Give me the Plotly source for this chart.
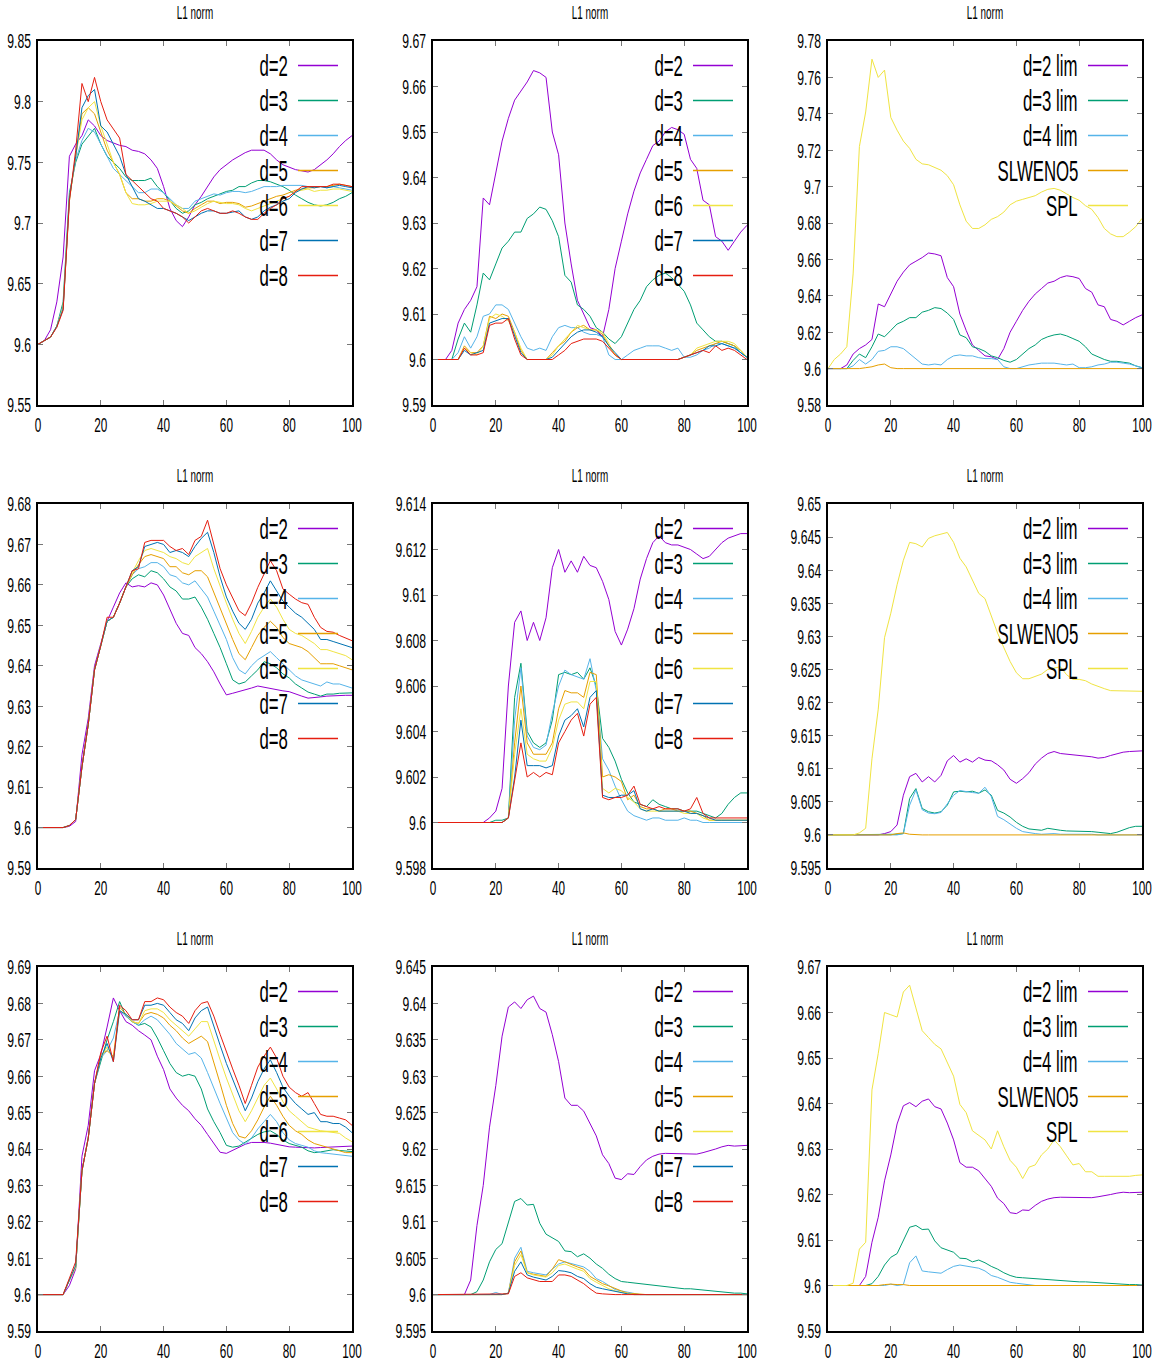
import plotly.graph_objects as go

W, H = 1159, 1362
FONT = "Liberation Sans, Arial, Helvetica, sans-serif"

x_time = list(range(0, 101, 2))
x_ticks = [0, 20, 40, 60, 80, 100]
x_tick_text = ["0", "20", "40", "60", "80", "100"]
title_text = "L1 norm"

d2_r1c1 = [9.600, 9.603, 9.612, 9.635, 9.672, 9.755, 9.765, 9.772, 9.785, 9.780,
           9.772, 9.768, 9.766, 9.764, 9.763, 9.760, 9.759, 9.757, 9.752, 9.745,
           9.730, 9.712, 9.702, 9.697, 9.705, 9.715, 9.722, 9.730, 9.738, 9.744,
           9.748, 9.752, 9.755, 9.758, 9.760, 9.760, 9.760, 9.757, 9.752, 9.748,
           9.746, 9.744, 9.743, 9.742, 9.744, 9.748, 9.752, 9.757, 9.763, 9.768,
           9.772]
d3_r1c1 = [9.600, 9.603, 9.606, 9.615, 9.635, 9.725, 9.750, 9.765, 9.772, 9.778,
           9.765, 9.755, 9.750, 9.745, 9.738, 9.735, 9.735, 9.735, 9.737, 9.730,
           9.725, 9.718, 9.712, 9.708, 9.710, 9.715, 9.717, 9.720, 9.722, 9.724,
           9.726, 9.727, 9.730, 9.730, 9.733, 9.735, 9.735, 9.734, 9.732, 9.730,
           9.727, 9.723, 9.720, 9.717, 9.715, 9.714, 9.715, 9.717, 9.720, 9.722,
           9.725]
d4_r1c1 = [9.600, 9.603, 9.606, 9.615, 9.632, 9.722, 9.752, 9.768, 9.778, 9.775,
           9.765, 9.755, 9.745, 9.740, 9.735, 9.730, 9.725, 9.725, 9.728, 9.728,
           9.725, 9.720, 9.715, 9.712, 9.712, 9.718, 9.720, 9.722, 9.724, 9.723,
           9.725, 9.726, 9.726, 9.725, 9.726, 9.728, 9.730, 9.730, 9.730, 9.731,
           9.731, 9.731, 9.731, 9.730, 9.730, 9.730, 9.729, 9.730, 9.729, 9.728,
           9.727]
d5_r1c1 = [9.600, 9.603, 9.606, 9.615, 9.630, 9.720, 9.755, 9.790, 9.795, 9.790,
           9.775, 9.760, 9.750, 9.740, 9.725, 9.720, 9.720, 9.718, 9.718, 9.720,
           9.720, 9.718, 9.714, 9.710, 9.708, 9.712, 9.715, 9.718, 9.718, 9.716,
           9.717, 9.717, 9.716, 9.713, 9.714, 9.716, 9.718, 9.720, 9.722, 9.723,
           9.725, 9.727, 9.728, 9.729, 9.729, 9.730, 9.730, 9.731, 9.732, 9.731,
           9.730]
d6_r1c1 = [9.600, 9.603, 9.606, 9.615, 9.630, 9.718, 9.755, 9.785, 9.795, 9.800,
           9.780, 9.765, 9.750, 9.740, 9.725, 9.716, 9.715, 9.715, 9.716, 9.718,
           9.718, 9.718, 9.715, 9.712, 9.708, 9.710, 9.713, 9.716, 9.718, 9.717,
           9.716, 9.716, 9.715, 9.712, 9.710, 9.712, 9.714, 9.716, 9.718, 9.720,
           9.722, 9.726, 9.727, 9.728, 9.726, 9.727, 9.727, 9.728, 9.728, 9.727,
           9.726]
d7_r1c1 = [9.600, 9.603, 9.606, 9.615, 9.629, 9.720, 9.755, 9.795, 9.805, 9.810,
           9.780, 9.775, 9.765, 9.755, 9.740, 9.730, 9.720, 9.718, 9.715, 9.712,
           9.712, 9.710, 9.708, 9.705, 9.702, 9.705, 9.708, 9.710, 9.710, 9.708,
           9.708, 9.709, 9.710, 9.705, 9.703, 9.705, 9.710, 9.713, 9.715, 9.718,
           9.720, 9.725, 9.728, 9.730, 9.729, 9.730, 9.729, 9.730, 9.731, 9.730,
           9.729]
d8_r1c1 = [9.600, 9.603, 9.606, 9.614, 9.628, 9.718, 9.760, 9.815, 9.800, 9.820,
           9.800, 9.785, 9.778, 9.770, 9.740, 9.735, 9.730, 9.725, 9.720, 9.718,
           9.712, 9.710, 9.708, 9.705, 9.700, 9.705, 9.710, 9.712, 9.710, 9.708,
           9.708, 9.710, 9.708, 9.705, 9.703, 9.703, 9.708, 9.712, 9.715, 9.720,
           9.722, 9.726, 9.730, 9.730, 9.730, 9.730, 9.730, 9.732, 9.732, 9.731,
           9.730]

d2_r1c2 = [9.600, 9.600, 9.600, 9.602, 9.608, 9.611, 9.613, 9.616, 9.6355, 9.634,
           9.641, 9.648, 9.653, 9.657, 9.659, 9.661, 9.6635, 9.663, 9.662, 9.650,
           9.645, 9.630, 9.621, 9.613, 9.610, 9.607, 9.6065, 9.605, 9.611, 9.620,
           9.626, 9.632, 9.637, 9.641, 9.644, 9.647, 9.648, 9.650, 9.651, 9.6505,
           9.6495, 9.644, 9.642, 9.635, 9.634, 9.627, 9.626, 9.624, 9.626, 9.628,
           9.6295]
d3_r1c2 = [9.600, 9.600, 9.600, 9.600, 9.6045, 9.608, 9.606, 9.612, 9.619, 9.6175,
           9.621, 9.6245, 9.626, 9.628, 9.628, 9.631, 9.632, 9.6335, 9.633, 9.6305,
           9.627, 9.6185, 9.617, 9.612, 9.611, 9.6095, 9.607, 9.606, 9.6045, 9.6035,
           9.605, 9.608, 9.611, 9.613, 9.616, 9.6175, 9.6185, 9.619, 9.618, 9.6165,
           9.615, 9.612, 9.608, 9.6065, 9.605, 9.604, 9.604, 9.6035, 9.603, 9.6015,
           9.6005]
d4_r1c2 = [9.600, 9.600, 9.600, 9.600, 9.6015, 9.605, 9.6025, 9.605, 9.6095, 9.610,
           9.612, 9.612, 9.611, 9.608, 9.605, 9.6025, 9.602, 9.6025, 9.602, 9.605,
           9.607, 9.6075, 9.607, 9.607, 9.606, 9.6055, 9.6055, 9.605, 9.601, 9.600,
           9.600, 9.601, 9.602, 9.6025, 9.603, 9.603, 9.603, 9.6025, 9.602, 9.6025,
           9.6005, 9.6005, 9.601, 9.602, 9.6025, 9.6035, 9.6035, 9.603, 9.6025, 9.6015,
           9.6005]
d5_r1c2 = [9.600, 9.600, 9.600, 9.600, 9.600, 9.603, 9.6015, 9.6015, 9.603, 9.6095,
           9.609, 9.610, 9.6095, 9.606, 9.602, 9.600, 9.600, 9.600, 9.600, 9.6015,
           9.603, 9.604, 9.606, 9.607, 9.6075, 9.6065, 9.6065, 9.6055, 9.603, 9.601,
           9.600, 9.600, 9.600, 9.600, 9.600, 9.600, 9.600, 9.600, 9.600, 9.600,
           9.6005, 9.601, 9.602, 9.6025, 9.603, 9.6035, 9.604, 9.6035, 9.603, 9.602,
           9.6005]
d6_r1c2 = [9.600, 9.600, 9.600, 9.600, 9.600, 9.6025, 9.6015, 9.601, 9.603, 9.609,
           9.610, 9.6095, 9.6085, 9.606, 9.6025, 9.600, 9.600, 9.600, 9.600, 9.601,
           9.603, 9.6045, 9.606, 9.6075, 9.607, 9.6065, 9.6065, 9.606, 9.6035, 9.601,
           9.600, 9.600, 9.600, 9.600, 9.600, 9.600, 9.600, 9.600, 9.600, 9.600,
           9.6005, 9.601, 9.6025, 9.603, 9.6035, 9.604, 9.604, 9.604, 9.6035, 9.602,
           9.6005]
d7_r1c2 = [9.600, 9.600, 9.600, 9.600, 9.600, 9.602, 9.601, 9.6015, 9.602, 9.608,
           9.6085, 9.609, 9.609, 9.605, 9.6015, 9.600, 9.600, 9.600, 9.600, 9.6005,
           9.602, 9.6035, 9.605, 9.606, 9.6065, 9.6065, 9.606, 9.605, 9.603, 9.6015,
           9.600, 9.600, 9.600, 9.600, 9.600, 9.600, 9.600, 9.600, 9.600, 9.600,
           9.6005, 9.601, 9.6015, 9.602, 9.603, 9.603, 9.6035, 9.603, 9.6025, 9.6015,
           9.6005]
d8_r1c2 = [9.600, 9.600, 9.600, 9.600, 9.600, 9.6025, 9.601, 9.601, 9.6015, 9.6075,
           9.608, 9.608, 9.609, 9.6045, 9.601, 9.600, 9.600, 9.600, 9.600, 9.600,
           9.601, 9.602, 9.6035, 9.604, 9.6045, 9.6045, 9.6045, 9.604, 9.6025, 9.601,
           9.600, 9.600, 9.600, 9.600, 9.600, 9.600, 9.600, 9.600, 9.600, 9.600,
           9.6005, 9.601, 9.6015, 9.602, 9.6015, 9.603, 9.602, 9.6025, 9.602, 9.601,
           9.600]

slweno5_r1 = [9.600, 9.600, 9.600, 9.600, 9.600, 9.600, 9.6005, 9.601, 9.602, 9.6025,
              9.6005, 9.600, 9.600, 9.600, 9.600, 9.600, 9.600, 9.600, 9.600, 9.600,
              9.600, 9.600, 9.600, 9.600, 9.600, 9.600, 9.600, 9.600, 9.600, 9.600,
              9.600, 9.600, 9.600, 9.600, 9.600, 9.600, 9.600, 9.600, 9.600, 9.600,
              9.600, 9.600, 9.600, 9.600, 9.600, 9.600, 9.600, 9.600, 9.600, 9.600,
              9.600]
spl_r1 = [9.600, 9.605, 9.608, 9.612, 9.652, 9.722, 9.741, 9.770, 9.760, 9.764,
          9.738, 9.731, 9.725, 9.721, 9.715, 9.7125, 9.712, 9.7105, 9.709, 9.706,
          9.701, 9.690, 9.681, 9.677, 9.677, 9.679, 9.682, 9.6835, 9.686, 9.690,
          9.692, 9.693, 9.694, 9.695, 9.697, 9.6985, 9.699, 9.698, 9.696, 9.694,
          9.6925, 9.6895, 9.6875, 9.683, 9.677, 9.674, 9.6725, 9.6725, 9.675, 9.678,
          9.6825]

d2_r2c1 = [9.600, 9.600, 9.600, 9.600, 9.600, 9.6003, 9.6015, 9.618, 9.627, 9.640,
           9.6455, 9.651, 9.6545, 9.658, 9.6605, 9.6595, 9.6598, 9.6595, 9.6605, 9.660,
           9.6575, 9.654, 9.6505, 9.648, 9.6475, 9.6445, 9.643, 9.641, 9.6385, 9.6355,
           9.6328, 9.6332, 9.6336, 9.634, 9.6345, 9.635, 9.6347, 9.6343, 9.634, 9.6338,
           9.6336, 9.633, 9.6325, 9.632, 9.6321, 9.6323, 9.6325, 9.6326, 9.6327, 9.6327,
           9.6327]
d3_r2c1 = [9.600, 9.600, 9.600, 9.600, 9.600, 9.6005, 9.602, 9.615, 9.6255, 9.639,
           9.645, 9.651, 9.652, 9.6555, 9.6595, 9.6615, 9.6625, 9.662, 9.6635, 9.663,
           9.6615, 9.6595, 9.6585, 9.6565, 9.6565, 9.657, 9.6545, 9.6515, 9.648, 9.6445,
           9.6405, 9.6365, 9.6355, 9.636, 9.6375, 9.639, 9.641, 9.6405, 9.6395, 9.638,
           9.637, 9.6355, 9.6345, 9.6335, 9.633, 9.6325, 9.633, 9.633, 9.6332, 9.6332,
           9.6333]
d4_r2c1 = [9.600, 9.600, 9.600, 9.600, 9.600, 9.6005, 9.602, 9.615, 9.6255, 9.639,
           9.645, 9.651, 9.652, 9.6555, 9.6595, 9.6625, 9.664, 9.6645, 9.6655, 9.6655,
           9.6645, 9.6625, 9.662, 9.6605, 9.660, 9.661, 9.659, 9.657, 9.6535, 9.650,
           9.6465, 9.642, 9.639, 9.638, 9.640, 9.6415, 9.6425, 9.6435, 9.642, 9.6405,
           9.639, 9.6375, 9.6365, 9.636, 9.6355, 9.635, 9.636, 9.6355, 9.6355, 9.635,
           9.6345]
d5_r2c1 = [9.600, 9.600, 9.600, 9.600, 9.600, 9.6005, 9.602, 9.615, 9.6255, 9.639,
           9.645, 9.651, 9.652, 9.6555, 9.6595, 9.6625, 9.665, 9.667, 9.6675, 9.667,
           9.6665, 9.6645, 9.6645, 9.663, 9.6625, 9.6635, 9.6635, 9.662, 9.658, 9.6545,
           9.650, 9.6465, 9.643, 9.6415, 9.6445, 9.6475, 9.6495, 9.651, 9.6495, 9.647,
           9.6455, 9.645, 9.6445, 9.6435, 9.642, 9.6405, 9.6405, 9.6405, 9.640, 9.6395,
           9.639]
d6_r2c1 = [9.600, 9.600, 9.600, 9.600, 9.600, 9.6005, 9.602, 9.615, 9.6255, 9.639,
           9.645, 9.651, 9.652, 9.6555, 9.6595, 9.663, 9.666, 9.6685, 9.669, 9.6685,
           9.668, 9.667, 9.6665, 9.6655, 9.665, 9.667, 9.668, 9.669, 9.664, 9.6595,
           9.6555, 9.6515, 9.648, 9.6455, 9.6485, 9.652, 9.6545, 9.6565, 9.6545, 9.6515,
           9.649, 9.648, 9.6475, 9.6465, 9.6455, 9.644, 9.644, 9.6435, 9.643, 9.6425,
           9.6415]
d7_r2c1 = [9.600, 9.600, 9.600, 9.600, 9.600, 9.6005, 9.602, 9.615, 9.6255, 9.639,
           9.645, 9.651, 9.652, 9.6555, 9.6595, 9.6635, 9.6645, 9.6695, 9.670, 9.6705,
           9.670, 9.668, 9.6685, 9.668, 9.667, 9.6695, 9.6715, 9.673, 9.668, 9.662,
           9.657, 9.6535, 9.6505, 9.649, 9.6515, 9.6555, 9.658, 9.661, 9.6585, 9.656,
           9.6545, 9.653, 9.652, 9.6505, 9.649, 9.6465, 9.6465, 9.646, 9.6455, 9.645,
           9.6445]
d8_r2c1 = [9.600, 9.600, 9.600, 9.600, 9.600, 9.6005, 9.602, 9.615, 9.6255, 9.639,
           9.645, 9.652, 9.652, 9.6555, 9.6595, 9.6635, 9.664, 9.6705, 9.671, 9.671,
           9.671, 9.6695, 9.6685, 9.669, 9.6675, 9.671, 9.672, 9.676, 9.670, 9.664,
           9.660, 9.6567, 9.6536, 9.6524, 9.6555, 9.6594, 9.6627, 9.666, 9.6635, 9.659,
           9.6577, 9.6565, 9.6556, 9.6552, 9.652, 9.6495, 9.6485, 9.6483, 9.6475, 9.6468,
           9.6462]

d2_r2c2 = [9.600, 9.600, 9.600, 9.600, 9.600, 9.600, 9.600, 9.600, 9.600, 9.6002,
           9.6005, 9.6015, 9.606, 9.6088, 9.6093, 9.608, 9.6088, 9.608, 9.609, 9.6112,
           9.612, 9.611, 9.6115, 9.611, 9.6117, 9.6113, 9.6112, 9.6106, 9.6098, 9.6084,
           9.6078, 9.6085, 9.6094, 9.6107, 9.6116, 9.6123, 9.6126, 9.6123, 9.6122, 9.6122,
           9.6121, 9.612, 9.6118, 9.6116, 9.6117, 9.612, 9.6123, 9.6125, 9.6126, 9.6127,
           9.6127]
d3_r2c2 = [9.600, 9.600, 9.600, 9.600, 9.600, 9.600, 9.600, 9.600, 9.600, 9.600,
           9.6001, 9.6001, 9.6002, 9.6055, 9.607, 9.604, 9.6035, 9.6033, 9.6035, 9.6045,
           9.6065, 9.6066, 9.6065, 9.6066, 9.6063, 9.6068, 9.606, 9.6037, 9.6033, 9.6027,
           9.6019, 9.6013, 9.6009, 9.6008, 9.6007, 9.601, 9.6008, 9.6007, 9.6006, 9.6006,
           9.6005, 9.6005, 9.6005, 9.6004, 9.6003, 9.6002, 9.6004, 9.6008, 9.6011, 9.6013,
           9.6013]
d4_r2c2 = [9.600, 9.600, 9.600, 9.600, 9.600, 9.600, 9.600, 9.600, 9.600, 9.600,
           9.600, 9.600, 9.6002, 9.6045, 9.6068, 9.6038, 9.6033, 9.6032, 9.6034, 9.6048,
           9.606, 9.6067, 9.6065, 9.6064, 9.6063, 9.6072, 9.6058, 9.6028, 9.6023, 9.6016,
           9.601, 9.6005, 9.6003, 9.6002, 9.6001, 9.6002, 9.6002, 9.6001, 9.6001, 9.6001,
           9.6002, 9.6001, 9.6001, 9.600, 9.600, 9.600, 9.600, 9.600, 9.600, 9.600,
           9.600]
d5_r2c2 = [9.600, 9.600, 9.600, 9.600, 9.600, 9.600, 9.600, 9.600, 9.600, 9.600,
           9.600, 9.600, 9.6002, 9.6035, 9.606, 9.6035, 9.603, 9.603, 9.603, 9.6035,
           9.605, 9.6058, 9.6057, 9.6057, 9.6055, 9.6066, 9.6065, 9.602, 9.6021, 9.602,
           9.6018, 9.601, 9.6012, 9.6007, 9.6006, 9.6006, 9.6005, 9.6006, 9.6006, 9.6005,
           9.6005, 9.6005, 9.6004, 9.6003, 9.6001, 9.6001, 9.6001, 9.6001, 9.6001, 9.6001,
           9.6001]
d6_r2c2 = [9.600, 9.600, 9.600, 9.600, 9.600, 9.600, 9.600, 9.600, 9.600, 9.600,
           9.600, 9.600, 9.6002, 9.603, 9.605, 9.603, 9.6028, 9.6027, 9.6027, 9.6033,
           9.6045, 9.6052, 9.6053, 9.6053, 9.605, 9.6062, 9.6062, 9.6015, 9.6013, 9.6015,
           9.6014, 9.6011, 9.6009, 9.6006, 9.6005, 9.6005, 9.6005, 9.6005, 9.6005, 9.6005,
           9.6004, 9.6004, 9.6004, 9.6002, 9.6001, 9.6001, 9.6001, 9.6001, 9.6001, 9.6001,
           9.6001]
d7_r2c2 = [9.600, 9.600, 9.600, 9.600, 9.600, 9.600, 9.600, 9.600, 9.600, 9.600,
           9.600, 9.600, 9.6002, 9.602, 9.6045, 9.6025, 9.6025, 9.6025, 9.6024, 9.6025,
           9.6038, 9.6045, 9.6047, 9.605, 9.6042, 9.6055, 9.6058, 9.6012, 9.6011, 9.6011,
           9.6012, 9.6012, 9.6014, 9.6006, 9.6005, 9.6006, 9.6005, 9.6005, 9.6005, 9.6005,
           9.6005, 9.6004, 9.6004, 9.6003, 9.6002, 9.6001, 9.6001, 9.6001, 9.6001, 9.6001,
           9.6001]
d8_r2c2 = [9.600, 9.600, 9.600, 9.600, 9.600, 9.600, 9.600, 9.600, 9.600, 9.600,
           9.600, 9.600, 9.6002, 9.6018, 9.6035, 9.602, 9.6022, 9.602, 9.6022, 9.6021,
           9.6035, 9.604, 9.6045, 9.6048, 9.6038, 9.6052, 9.6055, 9.6011, 9.601, 9.6011,
           9.6011, 9.6012, 9.6016, 9.6008, 9.6007, 9.6006, 9.6007, 9.6006, 9.6006, 9.6006,
           9.6005, 9.6006, 9.6011, 9.6004, 9.6002, 9.6002, 9.6002, 9.6002, 9.6002, 9.6002,
           9.6002]

slweno5_r2 = [9.600, 9.600, 9.600, 9.600, 9.600, 9.600, 9.600, 9.600, 9.600, 9.600,
              9.600, 9.6002, 9.6003, 9.6001, 9.600, 9.600, 9.600, 9.600, 9.600, 9.600,
              9.600, 9.600, 9.600, 9.600, 9.600, 9.600, 9.600, 9.600, 9.600, 9.600,
              9.600, 9.600, 9.600, 9.600, 9.600, 9.600, 9.600, 9.600, 9.600, 9.600,
              9.600, 9.600, 9.600, 9.600, 9.600, 9.600, 9.600, 9.600, 9.600, 9.600,
              9.600]
spl_r2 = [9.600, 9.600, 9.600, 9.600, 9.600, 9.6003, 9.601, 9.6115, 9.619, 9.6298,
          9.6335, 9.6378, 9.6415, 9.6442, 9.644, 9.6435, 9.6448, 9.6452, 9.6455, 9.6457,
          9.6442, 9.6418, 9.6405, 9.6385, 9.6365, 9.6357, 9.633, 9.6305, 9.6283, 9.6262,
          9.6245, 9.6236, 9.6236, 9.6239, 9.6243, 9.625, 9.6252, 9.6254, 9.6242, 9.6235,
          9.6235, 9.6233, 9.6228, 9.6224, 9.6221, 9.6218, 9.6218, 9.6218, 9.6217, 9.6217,
          9.6217]

d2_r3c1 = [9.600, 9.600, 9.600, 9.600, 9.600, 9.6025, 9.607, 9.638, 9.6465, 9.6615,
           9.666, 9.6735, 9.6815, 9.678, 9.675, 9.674, 9.6725, 9.6713, 9.670, 9.6655,
           9.6618, 9.6565, 9.654, 9.652, 9.6505, 9.6483, 9.6465, 9.644, 9.6415, 9.6391,
           9.6388, 9.6396, 9.6405, 9.6413, 9.6418, 9.6419, 9.6418, 9.6416, 9.6412, 9.6409,
           9.6406, 9.6405, 9.6404, 9.6403, 9.6403, 9.6404, 9.6405, 9.6406, 9.6407, 9.6408,
           9.6408]
d3_r3c1 = [9.600, 9.600, 9.600, 9.600, 9.600, 9.604, 9.6075, 9.634, 9.643, 9.658,
           9.664, 9.670, 9.675, 9.6805, 9.6765, 9.675, 9.674, 9.6745, 9.6735, 9.6705,
           9.667, 9.6635, 9.661, 9.660, 9.6605, 9.660, 9.6565, 9.651, 9.6475, 9.6445,
           9.641, 9.6405, 9.6408, 9.6418, 9.6428, 9.644, 9.6447, 9.645, 9.644, 9.6425,
           9.6415, 9.641, 9.6405, 9.6395, 9.639, 9.6392, 9.6395, 9.6398, 9.6396, 9.6394,
           9.6393]
d4_r3c1 = [9.600, 9.600, 9.600, 9.600, 9.600, 9.604, 9.6075, 9.634, 9.643, 9.658,
           9.665, 9.667, 9.6705, 9.678, 9.6765, 9.675, 9.674, 9.6755, 9.6765, 9.6755,
           9.6735, 9.6715, 9.669, 9.6675, 9.666, 9.6665, 9.665, 9.661, 9.6565, 9.6525,
           9.6485, 9.6445, 9.6425, 9.6413, 9.643, 9.6455, 9.6475, 9.6495, 9.6475, 9.6445,
           9.6425, 9.6415, 9.641, 9.6405, 9.6395, 9.639, 9.6388, 9.6386, 9.6384, 9.6382,
           9.638]
d5_r3c1 = [9.600, 9.600, 9.600, 9.600, 9.600, 9.604, 9.6075, 9.634, 9.643, 9.658,
           9.666, 9.667, 9.6655, 9.679, 9.677, 9.675, 9.6745, 9.677, 9.6775, 9.677,
           9.676, 9.674, 9.6725, 9.6705, 9.669, 9.670, 9.671, 9.6695, 9.664, 9.658,
           9.652, 9.647, 9.6435, 9.643, 9.645, 9.648, 9.6515, 9.6545, 9.652, 9.649,
           9.6465, 9.645, 9.644, 9.6425, 9.6415, 9.641, 9.6405, 9.640, 9.6395, 9.639,
           9.639]
d6_r3c1 = [9.600, 9.600, 9.600, 9.600, 9.600, 9.604, 9.6075, 9.634, 9.643, 9.658,
           9.665, 9.668, 9.665, 9.678, 9.677, 9.675, 9.6745, 9.678, 9.6785, 9.6785,
           9.6775, 9.6755, 9.674, 9.6725, 9.671, 9.673, 9.675, 9.675, 9.6695, 9.6645,
           9.6595, 9.655, 9.6505, 9.6475, 9.6505, 9.654, 9.6575, 9.6595, 9.6565, 9.653,
           9.6505, 9.649, 9.6475, 9.646, 9.6455, 9.645, 9.6448, 9.6446, 9.6443, 9.643,
           9.642]
d7_r3c1 = [9.600, 9.600, 9.600, 9.600, 9.600, 9.604, 9.608, 9.634, 9.643, 9.658,
           9.665, 9.669, 9.664, 9.678, 9.677, 9.6755, 9.6755, 9.6795, 9.6795, 9.680,
           9.6795, 9.6775, 9.6755, 9.6745, 9.6725, 9.676, 9.678, 9.679, 9.6735, 9.6685,
           9.6635, 9.659, 9.655, 9.6505, 9.654, 9.6585, 9.662, 9.6645, 9.661, 9.657,
           9.6545, 9.6525, 9.651, 9.6495, 9.650, 9.6475, 9.6475, 9.647, 9.647, 9.646,
           9.6445]
d8_r3c1 = [9.600, 9.600, 9.600, 9.600, 9.600, 9.6045, 9.609, 9.634, 9.643, 9.658,
           9.6665, 9.671, 9.664, 9.6795, 9.678, 9.6755, 9.6755, 9.6805, 9.6805, 9.6815,
           9.681, 9.679, 9.6775, 9.6765, 9.6745, 9.678, 9.680, 9.6805, 9.6765, 9.6715,
           9.6665, 9.662, 9.6575, 9.6525, 9.6575, 9.6625, 9.6655, 9.668, 9.665, 9.660,
           9.657, 9.6555, 9.6545, 9.6555, 9.6525, 9.6495, 9.649, 9.649, 9.6485, 9.648,
           9.6465]

d2_r3c2 = [9.600, 9.600, 9.600, 9.600, 9.600, 9.600, 9.602, 9.6095, 9.615, 9.623,
           9.6287, 9.6355, 9.6395, 9.6402, 9.6393, 9.6405, 9.641, 9.6393, 9.6388, 9.6357,
           9.632, 9.627, 9.626, 9.626, 9.6252, 9.6234, 9.6218, 9.6192, 9.618, 9.616,
           9.6158, 9.6166, 9.6165, 9.6176, 9.6185, 9.619, 9.6193, 9.6194, 9.6194, 9.6194,
           9.6194, 9.6194, 9.6193, 9.6195, 9.6197, 9.620, 9.6203, 9.6205, 9.6204, 9.6205,
           9.6205]
d3_r3c2 = [9.600, 9.600, 9.600, 9.600, 9.600, 9.600, 9.600, 9.6004, 9.602, 9.6045,
           9.6062, 9.607, 9.6098, 9.6128, 9.6132, 9.6123, 9.6124, 9.6098, 9.6083, 9.6078,
           9.6073, 9.606, 9.6059, 9.6052, 9.6056, 9.605, 9.6042, 9.6036, 9.6028, 9.6022,
           9.6018, 9.6017, 9.6016, 9.6015, 9.6013, 9.6012, 9.6011, 9.601, 9.6009, 9.6009,
           9.6008, 9.6008, 9.6007, 9.6007, 9.6006, 9.6005, 9.6004, 9.6003, 9.6002, 9.6002,
           9.6001]
d4_r3c2 = [9.600, 9.600, 9.600, 9.600, 9.600, 9.600, 9.600, 9.600, 9.600, 9.600,
           9.6003, 9.600, 9.6002, 9.605, 9.6065, 9.6032, 9.603, 9.6028, 9.6027, 9.6035,
           9.6042, 9.6045, 9.6043, 9.604, 9.6038, 9.6032, 9.6022, 9.6018, 9.6012, 9.6007,
           9.6005, 9.6003, 9.6001, 9.600, 9.600, 9.600, 9.600, 9.600, 9.600, 9.600,
           9.600, 9.600, 9.600, 9.600, 9.600, 9.600, 9.600, 9.600, 9.600, 9.600,
           9.600]
d5_r3c2 = [9.600, 9.600, 9.600, 9.600, 9.600, 9.600, 9.600, 9.600, 9.600, 9.600,
           9.600, 9.600, 9.6002, 9.6045, 9.606, 9.603, 9.6028, 9.6027, 9.6025, 9.6035,
           9.6048, 9.6045, 9.6041, 9.6038, 9.6035, 9.6025, 9.602, 9.6015, 9.6012, 9.6008,
           9.6005, 9.6002, 9.6001, 9.600, 9.600, 9.600, 9.600, 9.600, 9.600, 9.600,
           9.600, 9.600, 9.600, 9.600, 9.600, 9.600, 9.600, 9.600, 9.600, 9.600,
           9.600]
d6_r3c2 = [9.600, 9.600, 9.600, 9.600, 9.600, 9.600, 9.600, 9.600, 9.600, 9.600,
           9.600, 9.600, 9.6002, 9.604, 9.6055, 9.603, 9.6027, 9.6026, 9.6024, 9.603,
           9.604, 9.6042, 9.6038, 9.6035, 9.6032, 9.6022, 9.6017, 9.6012, 9.6008, 9.6005,
           9.6003, 9.6001, 9.600, 9.600, 9.600, 9.600, 9.600, 9.600, 9.600, 9.600,
           9.600, 9.600, 9.600, 9.600, 9.600, 9.600, 9.600, 9.600, 9.600, 9.600,
           9.600]
d7_r3c2 = [9.600, 9.600, 9.600, 9.600, 9.600, 9.600, 9.600, 9.600, 9.600, 9.600,
           9.600, 9.600, 9.6002, 9.6032, 9.6045, 9.6027, 9.6024, 9.6022, 9.602, 9.6025,
           9.6033, 9.6032, 9.603, 9.6025, 9.6022, 9.6015, 9.601, 9.6008, 9.6006, 9.6004,
           9.6003, 9.6001, 9.600, 9.600, 9.600, 9.600, 9.600, 9.600, 9.600, 9.600,
           9.600, 9.600, 9.600, 9.600, 9.600, 9.600, 9.600, 9.600, 9.600, 9.600,
           9.600]
d8_r3c2 = [9.600, 9.600, 9.600, 9.600, 9.600, 9.600, 9.600, 9.600, 9.600, 9.600,
           9.600, 9.600, 9.6001, 9.6025, 9.603, 9.6023, 9.602, 9.6018, 9.6018, 9.6018,
           9.6027, 9.6027, 9.6025, 9.602, 9.6015, 9.6008, 9.6002, 9.6001, 9.600, 9.600,
           9.600, 9.600, 9.600, 9.600, 9.600, 9.600, 9.600, 9.600, 9.600, 9.600,
           9.600, 9.600, 9.600, 9.600, 9.600, 9.600, 9.600, 9.600, 9.600, 9.600,
           9.600]

slweno5_r3 = [9.600, 9.600, 9.600, 9.600, 9.600, 9.600, 9.600, 9.600, 9.600, 9.6002,
              9.6003, 9.6002, 9.6002, 9.600, 9.600, 9.600, 9.600, 9.600, 9.600, 9.600,
              9.600, 9.600, 9.600, 9.600, 9.600, 9.600, 9.600, 9.600, 9.600, 9.600,
              9.600, 9.600, 9.600, 9.600, 9.600, 9.600, 9.600, 9.600, 9.600, 9.600,
              9.600, 9.600, 9.600, 9.600, 9.600, 9.600, 9.600, 9.600, 9.600, 9.600,
              9.600]
spl_r3 = [9.600, 9.600, 9.600, 9.600, 9.6005, 9.608, 9.6095, 9.643, 9.651, 9.660,
          9.6595, 9.659, 9.6645, 9.666, 9.661, 9.656, 9.6545, 9.653, 9.652, 9.649,
          9.646, 9.6398, 9.638, 9.634, 9.633, 9.632, 9.630, 9.634, 9.6305, 9.6275,
          9.626, 9.6235, 9.626, 9.6265, 9.6287, 9.630, 9.632, 9.6305, 9.6285, 9.6265,
          9.6268, 9.625, 9.625, 9.624, 9.624, 9.624, 9.624, 9.624, 9.624, 9.6242,
          9.6243]

yt_r1c1 = [9.55, 9.6, 9.65, 9.7, 9.75, 9.8, 9.85]
yl_r1c1 = ["9.55", "9.6", "9.65", "9.7", "9.75", "9.8", "9.85"]
yt_r1c2 = [9.59, 9.6, 9.61, 9.62, 9.63, 9.64, 9.65, 9.66, 9.67]
yl_r1c2 = ["9.59", "9.6", "9.61", "9.62", "9.63", "9.64", "9.65", "9.66", "9.67"]
yt_r1c3 = [9.58, 9.6, 9.62, 9.64, 9.66, 9.68, 9.7, 9.72, 9.74, 9.76, 9.78]
yl_r1c3 = ["9.58", "9.6", "9.62", "9.64", "9.66", "9.68", "9.7", "9.72", "9.74", "9.76", "9.78"]
yt_r2c1 = [9.59, 9.6, 9.61, 9.62, 9.63, 9.64, 9.65, 9.66, 9.67, 9.68]
yl_r2c1 = ["9.59", "9.6", "9.61", "9.62", "9.63", "9.64", "9.65", "9.66", "9.67", "9.68"]
yt_r2c2 = [9.598, 9.6, 9.602, 9.604, 9.606, 9.608, 9.61, 9.612, 9.614]
yl_r2c2 = ["9.598", "9.6", "9.602", "9.604", "9.606", "9.608", "9.61", "9.612", "9.614"]
yt_r2c3 = [9.595, 9.6, 9.605, 9.61, 9.615, 9.62, 9.625, 9.63, 9.635, 9.64, 9.645, 9.65]
yl_r2c3 = ["9.595", "9.6", "9.605", "9.61", "9.615", "9.62", "9.625", "9.63", "9.635", "9.64", "9.645", "9.65"]
yt_r3c1 = [9.59, 9.6, 9.61, 9.62, 9.63, 9.64, 9.65, 9.66, 9.67, 9.68, 9.69]
yl_r3c1 = ["9.59", "9.6", "9.61", "9.62", "9.63", "9.64", "9.65", "9.66", "9.67", "9.68", "9.69"]
yt_r3c2 = [9.595, 9.6, 9.605, 9.61, 9.615, 9.62, 9.625, 9.63, 9.635, 9.64, 9.645]
yl_r3c2 = ["9.595", "9.6", "9.605", "9.61", "9.615", "9.62", "9.625", "9.63", "9.635", "9.64", "9.645"]
yt_r3c3 = [9.59, 9.6, 9.61, 9.62, 9.63, 9.64, 9.65, 9.66, 9.67]
yl_r3c3 = ["9.59", "9.6", "9.61", "9.62", "9.63", "9.64", "9.65", "9.66", "9.67"]

names_d = ["d=2", "d=3", "d=4", "d=5", "d=6", "d=7", "d=8"]
names_lim = ["d=2 lim", "d=3 lim", "d=4 lim", "SLWENO5", "SPL"]

PURPLE, GREEN, SKY, ORANGE, YELLOW, BLUE, RED = (
    "#9400d3", "#009e73", "#56b4e9", "#e69f00", "#f0e442", "#0072b2", "#e51e10")
colors_d = [PURPLE, GREEN, SKY, ORANGE, YELLOW, BLUE, RED]
colors_lim = [PURPLE, GREEN, SKY, ORANGE, YELLOW]

panels = [
    (names_d, [d2_r1c1, d3_r1c1, d4_r1c1, d5_r1c1, d6_r1c1, d7_r1c1, d8_r1c1], colors_d, yt_r1c1, yl_r1c1),
    (names_d, [d2_r1c2, d3_r1c2, d4_r1c2, d5_r1c2, d6_r1c2, d7_r1c2, d8_r1c2], colors_d, yt_r1c2, yl_r1c2),
    (names_lim, [d2_r1c2, d3_r1c2, d4_r1c2, slweno5_r1, spl_r1], colors_lim, yt_r1c3, yl_r1c3),
    (names_d, [d2_r2c1, d3_r2c1, d4_r2c1, d5_r2c1, d6_r2c1, d7_r2c1, d8_r2c1], colors_d, yt_r2c1, yl_r2c1),
    (names_d, [d2_r2c2, d3_r2c2, d4_r2c2, d5_r2c2, d6_r2c2, d7_r2c2, d8_r2c2], colors_d, yt_r2c2, yl_r2c2),
    (names_lim, [d2_r2c2, d3_r2c2, d4_r2c2, slweno5_r2, spl_r2], colors_lim, yt_r2c3, yl_r2c3),
    (names_d, [d2_r3c1, d3_r3c1, d4_r3c1, d5_r3c1, d6_r3c1, d7_r3c1, d8_r3c1], colors_d, yt_r3c1, yl_r3c1),
    (names_d, [d2_r3c2, d3_r3c2, d4_r3c2, d5_r3c2, d6_r3c2, d7_r3c2, d8_r3c2], colors_d, yt_r3c2, yl_r3c2),
    (names_lim, [d2_r3c2, d3_r3c2, d4_r3c2, slweno5_r3, spl_r3], colors_lim, yt_r3c3, yl_r3c3),
]

for p in panels:
    for s in p[1]:
        assert len(s) == len(x_time), len(s)

col_px = [(38, 352), (433, 747), (828, 1142)]
row_px = [(41, 405), (504, 868), (967, 1331)]
title_y_px = [13, 476, 939]

fig = go.Figure()
annotations = []
shapes = []
layout_axes = {}

for i, (names, series, cols, ytv, ytt) in enumerate(panels):
    r, c = divmod(i, 3)
    sfx = "" if i == 0 else str(i + 1)
    x0, x1 = col_px[c]
    y0, y1 = row_px[r]
    for name, ys, col in zip(names, series, cols):
        fig.add_trace(go.Scatter(x=x_time, y=ys, mode="lines", name=name,
                                 line=dict(color=col, width=1),
                                 xaxis="x" + sfx, yaxis="y" + sfx, showlegend=False))
    common = dict(showline=True, linecolor="black", linewidth=1.5, mirror="ticks",
                  ticks="inside", ticklen=5, tickcolor="#777777", tickwidth=1,
                  showgrid=False, zeroline=False, automargin=False,
                  ticklabeloverflow="allow",
                  tickfont=dict(family=FONT, size=21, color="black"))
    layout_axes["xaxis" + sfx] = dict(domain=[x0 / W, x1 / W], anchor="y" + sfx,
                                      range=[0, 100], tickmode="array",
                                      tickvals=x_ticks, ticktext=x_tick_text,
                                      ticklabelstandoff=0, **common)
    layout_axes["yaxis" + sfx] = dict(domain=[1 - y1 / H, 1 - y0 / H], anchor="x" + sfx,
                                      range=[ytv[0], ytv[-1]], tickmode="array",
                                      tickvals=ytv, ticktext=ytt,
                                      ticklabelstandoff=1, **common)
    annotations.append(dict(text=title_text, x=(x0 + x1) / 2 / W, y=1 - title_y_px[r] / H,
                            xref="paper", yref="paper", xanchor="center", yanchor="middle",
                            showarrow=False, font=dict(family=FONT, size=18, color="black")))
    for k, (name, col) in enumerate(zip(names, cols)):
        ypx = y0 + 24.5 + 35 * k
        annotations.append(dict(text=name, x=(x1 - 62) / W, y=1 - ypx / H,
                                xref="paper", yref="paper", xanchor="right", yanchor="middle",
                                showarrow=False, font=dict(family=FONT, size=30, color="black")))
        shapes.append(dict(type="line", xref="paper", yref="paper",
                           x0=(x1 - 54) / W, x1=(x1 - 14) / W,
                           y0=1 - ypx / H, y1=1 - ypx / H,
                           line=dict(color=col, width=1.5)))

fig.update_layout(width=W, height=H, autosize=False,
                  margin=dict(l=0, r=0, t=0, b=0, pad=0, autoexpand=False),
                  paper_bgcolor="white", plot_bgcolor="white",
                  showlegend=False, annotations=annotations, shapes=shapes,
                  font=dict(family=FONT, color="black"),
                  **layout_axes)

# gnuplot output is horizontally condensed: narrow the text glyphs in place
post_js = """
document.documentElement.style.margin = '0';
document.body.style.margin = '0';
document.body.style.padding = '0';
var gd = document.getElementById('{plot_id}');
function squeeze(t, s, mode) {
  var bb = t.getBBox();
  var ax = (mode === 'right') ? bb.x + bb.width : bb.x + bb.width / 2;
  var old = t.getAttribute('transform') || '';
  t.setAttribute('transform', old + ' translate(' + (ax * (1 - s)) + ',0) scale(' + s + ',1)');
}
gd.querySelectorAll('g.yaxislayer-above text').forEach(function(t){ squeeze(t, 0.58, 'right'); });
gd.querySelectorAll('g.xaxislayer-above text').forEach(function(t){ squeeze(t, 0.56, 'center'); });
gd.querySelectorAll('text.annotation-text').forEach(function(t){
  var fs = parseFloat(t.style.fontSize);
  if (fs > 24) { squeeze(t, 0.56, 'right'); } else { squeeze(t, 0.55, 'center'); }
});
"""

fig.write_html("out.html", post_script=post_js)
